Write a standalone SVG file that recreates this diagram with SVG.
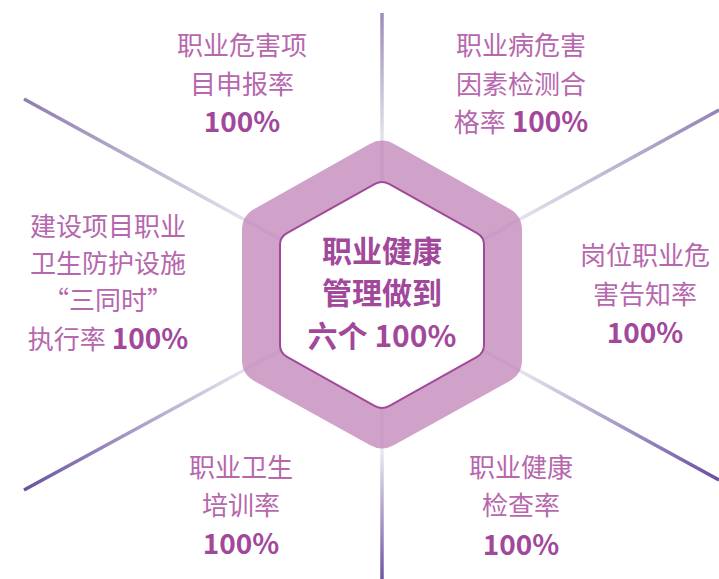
<svg xmlns="http://www.w3.org/2000/svg" width="719" height="579" viewBox="0 0 719 579">
<style>
.lbl{font-family:"Noto Sans CJK SC","Noto Sans",sans-serif;font-size:26px;fill:#b667ad;text-anchor:middle}
.pct{font-family:"Noto Sans CJK SC","Noto Sans",sans-serif;font-size:28px;font-weight:bold;fill:#a2489b}
.ctr{font-family:"Noto Sans CJK SC","Noto Sans",sans-serif;font-size:30px;font-weight:bold;fill:#a2489b;text-anchor:middle}
.ln{stroke-width:3.5;fill:none;stroke-linecap:butt}
</style>
<defs>
<linearGradient id="gT" gradientUnits="userSpaceOnUse" x1="382" y1="13" x2="382" y2="140"><stop offset="0" stop-color="#9a8cb8"/><stop offset="1" stop-color="#e6e3ec"/></linearGradient>
<linearGradient id="gB" gradientUnits="userSpaceOnUse" x1="382" y1="579" x2="382" y2="452"><stop offset="0" stop-color="#6d55a2"/><stop offset="1" stop-color="#e9e6ee"/></linearGradient>
<linearGradient id="gUL" gradientUnits="userSpaceOnUse" x1="24" y1="99" x2="248" y2="221"><stop offset="0" stop-color="#8e7cb0"/><stop offset="1" stop-color="#e6e3ec"/></linearGradient>
<linearGradient id="gLL" gradientUnits="userSpaceOnUse" x1="24" y1="490" x2="248" y2="369"><stop offset="0" stop-color="#6a51a0"/><stop offset="1" stop-color="#e9e6ee"/></linearGradient>
<linearGradient id="gUR" gradientUnits="userSpaceOnUse" x1="719" y1="110" x2="516" y2="222"><stop offset="0" stop-color="#9383b5"/><stop offset="1" stop-color="#e6e3ec"/></linearGradient>
<linearGradient id="gLR" gradientUnits="userSpaceOnUse" x1="719" y1="480" x2="516" y2="369"><stop offset="0" stop-color="#684e9f"/><stop offset="1" stop-color="#e9e6ee"/></linearGradient>
</defs>
<g id="connectors">
<line class="ln" x1="382" y1="13" x2="382" y2="295" stroke="url(#gT)"/>
<line class="ln" x1="382" y1="579" x2="382" y2="295" stroke="url(#gB)"/>
<line class="ln" x1="24" y1="99" x2="382" y2="295" stroke="url(#gUL)"/>
<line class="ln" x1="24" y1="490" x2="382" y2="295" stroke="url(#gLL)"/>
<line class="ln" x1="719" y1="110" x2="382" y2="295" stroke="url(#gUR)"/>
<line class="ln" x1="719" y1="480" x2="382" y2="295" stroke="url(#gLR)"/>
</g>
<g id="center">
<path d="M394.2,143.9 L509.8,209.1 Q522,216 522,230 L522,360 Q522,374 509.8,380.9 L394.2,445.1 Q382,452 369.8,445.1 L254.2,380.9 Q242,374 242,360 L242,230 Q242,216 254.2,209.1 L369.8,143.9 Q382,137 394.2,143.9 Z" fill="#c083b7" fill-opacity="0.75"/>
<path d="M389,183.9 L477,233.1 Q484,237 484,245 L484,345 Q484,353 477,356.9 L389,406.1 Q382,410 375,406.1 L287,356.9 Q280,353 280,345 L280,245 Q280,237 287,233.1 L375,183.9 Q382,180 389,183.9 Z" fill="#ffffff" stroke="#a2489b" stroke-width="2"/>
<text class="ctr" x="382" y="262">职业健康</text>
<text class="ctr" x="382" y="304">管理做到</text>
<text class="ctr" x="382" y="347">六个 100%</text>
</g>
<g id="node-top-left">
<text class="lbl" x="242" y="55">职业危害项</text>
<text class="lbl" x="242" y="94">目申报率</text>
<text class="lbl" x="242" y="132"><tspan class="pct">100%</tspan></text>
</g>
<g id="node-top-right">
<text class="lbl" x="521" y="55">职业病危害</text>
<text class="lbl" x="521" y="94">因素检测合</text>
<text class="lbl" x="521" y="132">格率 <tspan class="pct">100%</tspan></text>
</g>
<g id="node-right">
<text class="lbl" x="645" y="265">岗位职业危</text>
<text class="lbl" x="645" y="304">害告知率</text>
<text class="lbl" x="645" y="343"><tspan class="pct">100%</tspan></text>
</g>
<g id="node-left">
<text class="lbl" x="108" y="236">建设项目职业</text>
<text class="lbl" x="108" y="273">卫生防护设施</text>
<text class="lbl" x="108" y="310">“三同时”</text>
<text class="lbl" x="108" y="349">执行率 <tspan class="pct">100%</tspan></text>
</g>
<g id="node-bottom-left">
<text class="lbl" x="241" y="477">职业卫生</text>
<text class="lbl" x="241" y="515">培训率</text>
<text class="lbl" x="241" y="554"><tspan class="pct">100%</tspan></text>
</g>
<g id="node-bottom-right">
<text class="lbl" x="521" y="477">职业健康</text>
<text class="lbl" x="521" y="515">检查率</text>
<text class="lbl" x="521" y="555"><tspan class="pct">100%</tspan></text>
</g>
</svg>
